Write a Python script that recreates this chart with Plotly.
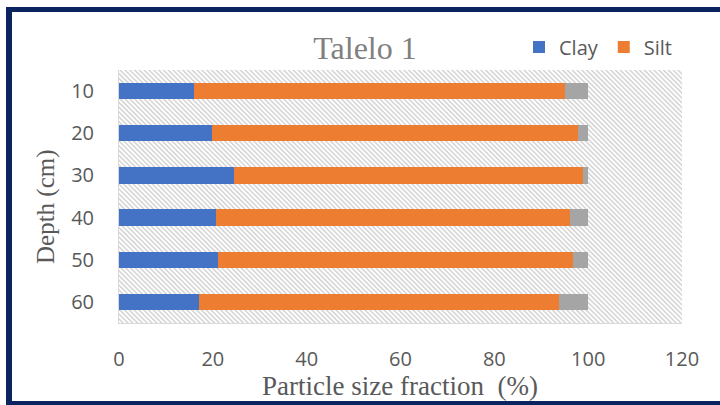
import base64
import plotly.graph_objects as go

depths = ["10", "20", "30", "40", "50", "60"]
clay = [16.0, 19.8, 24.5, 20.7, 21.1, 17.0]
silt = [79.0, 78.1, 74.4, 75.4, 75.6, 76.8]
sand = [5.0, 2.1, 1.1, 3.9, 3.3, 6.2]
x_ticks = [0, 20, 40, 60, 80, 100, 120]

W, H = 720, 405
ML, MR, MT, MB = 119, 38, 70, 82
PW, PH = W - ML - MR, H - MT - MB

svg = f'''<svg xmlns="http://www.w3.org/2000/svg" width="{PW}" height="{PH}">
<defs><pattern id="h" width="3.4" height="3.4" patternUnits="userSpaceOnUse" patternTransform="rotate(-45)">
<rect width="3.4" height="3.4" fill="white"/>
<line x1="0.8" y1="0" x2="0.8" y2="3.4" stroke="#c8c8c8" stroke-width="1.2"/></pattern></defs>
<rect width="{PW}" height="{PH}" fill="url(#h)"/></svg>'''
src = "data:image/svg+xml;base64," + base64.b64encode(svg.encode()).decode()

tick_font = dict(family="Open Sans", size=20, color="#595959")
serif = "Liberation Serif, Times New Roman, serif"

fig = go.Figure()
fig.add_trace(go.Bar(y=depths, x=clay, name="Clay", orientation="h",
                     marker=dict(color="#4472C4", line=dict(width=0))))
fig.add_trace(go.Bar(y=depths, x=silt, name="Silt", orientation="h",
                     marker=dict(color="#ED7D31", line=dict(width=0))))
fig.add_trace(go.Bar(y=depths, x=sand, name="Sand", orientation="h", showlegend=False,
                     marker=dict(color="#A5A5A5", line=dict(width=0))))

def px(x):
    return (x - ML) / PW

def py(y):
    return (H - MB - y) / PH

navy = "#0b2460"
shapes = [
    dict(type="line", xref="paper", yref="paper", x0=px(9), x1=px(9), y0=py(7), y1=py(405), line=dict(color=navy, width=6)),
    dict(type="line", xref="paper", yref="paper", x0=px(6), x1=px(720), y0=py(9.5), y1=py(9.5), line=dict(color=navy, width=5)),
    dict(type="line", xref="paper", yref="paper", x0=px(6), x1=px(720), y0=py(403), y1=py(403), line=dict(color=navy, width=4)),
]

annotations = [
    dict(text="Depth (cm)", xref="paper", yref="paper", x=px(46), y=py(207),
         xanchor="center", yanchor="middle", textangle=-90, showarrow=False,
         font=dict(family=serif, size=25, color="#595959")),
    dict(text="Particle size fraction  (%)", xref="paper", yref="paper", x=px(400), y=py(386),
         xanchor="center", yanchor="middle", showarrow=False,
         font=dict(family=serif, size=27, color="#595959")),
]

fig.update_layout(
    width=W, height=H,
    margin=dict(l=ML, r=MR, t=MT, b=MB, autoexpand=False),
    barmode="stack", bargap=0.61,
    paper_bgcolor="white", plot_bgcolor="rgba(0,0,0,0)",
    title=dict(text="Talelo 1", xref="container", x=365 / W, xanchor="center",
               y=1 - 48 / H, yanchor="middle",
               font=dict(family=serif, size=32, color="#808080")),
    legend=dict(orientation="h", x=px(519), xanchor="left", y=1 - 47 / H, yanchor="middle",
                yref="container", font=tick_font, itemwidth=30, traceorder="normal",
                bgcolor="rgba(0,0,0,0)"),
    xaxis=dict(range=[0, 120], tickvals=x_ticks, showgrid=False, zeroline=False,
               showline=True, linecolor="#d9d9d9", linewidth=1, ticks="",
               ticklabelstandoff=18, tickfont=tick_font),
    yaxis=dict(categoryorder="array", categoryarray=depths, autorange="reversed",
               showgrid=False, zeroline=False, showline=True, linecolor="#d9d9d9",
               linewidth=1, ticks="", ticklabelstandoff=20, tickfont=tick_font),
    images=[dict(source=src, xref="paper", yref="paper", x=0, y=1, sizex=1, sizey=1,
                 xanchor="left", yanchor="top", sizing="stretch", layer="below")],
    shapes=shapes,
    annotations=annotations,
)

fig.write_html(
    "out.html",
    config={"displayModeBar": False},
    post_script=("document.body.style.margin='0';document.body.style.overflow='hidden';"
                 "var d=document.getElementById('{plot_id}');d.style.position='fixed';"
                 "d.style.top='0';d.style.left='0';"),
)
